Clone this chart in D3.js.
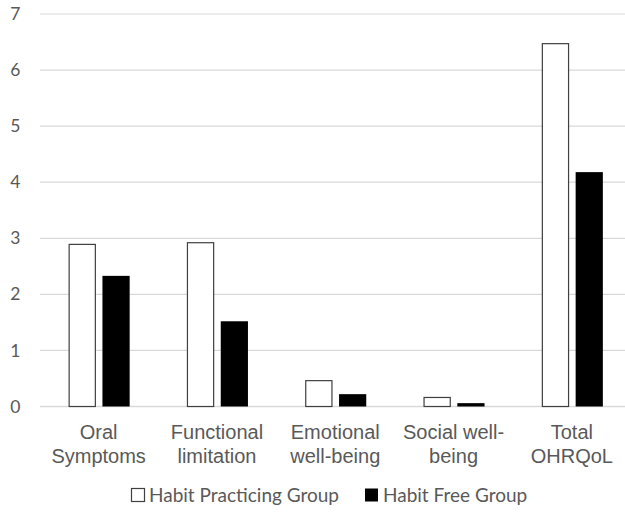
<!DOCTYPE html>
<html>
<head>
<meta charset="utf-8">
<script src="https://cdn.jsdelivr.net/npm/d3@7"></script>
<style>
  html, body { margin: 0; padding: 0; background: #fff; }
  svg { display: block; }
</style>
</head>
<body>
<svg id="chart" width="625" height="517"></svg>
<script>
const categories = [["Oral", "Symptoms"], ["Functional", "limitation"], ["Emotional", "well-being"], ["Social well-", "being"], ["Total", "OHRQoL"]];
const seriesNames = ["Habit Practicing Group", "Habit Free Group"];
const habitPracticing = [2.90, 2.93, 0.47, 0.17, 6.48];
const habitFree = [2.33, 1.52, 0.22, 0.06, 4.18];
const yTicks = [0, 1, 2, 3, 4, 5, 6, 7];

const svg = d3.select("#chart");
const catKeys = categories.map(c => c.join(" "));
const x0 = d3.scaleBand().domain(catKeys).range([40, 631.5]).paddingInner(0).paddingOuter(0);
const x1 = d3.scaleBand().domain(seriesNames).range([0, x0.bandwidth()]).paddingInner(0.195).paddingOuter(0.8475);
const y = d3.scaleLinear().domain([0, 7]).range([406.5, 14]);

// gridlines
svg.append("g").selectAll("line").data(yTicks).join("line")
  .attr("x1", 40).attr("x2", 625)
  .attr("y1", d => y(d)).attr("y2", d => y(d))
  .attr("stroke", "#d9d9d9").attr("stroke-width", d => d === 0 ? 1.5 : 1.2);

// y tick labels
const yAxis = d3.axisLeft(y).tickValues(yTicks).tickFormat(d3.format("d")).tickSize(0).tickPadding(0);
const gy = svg.append("g").attr("transform", "translate(20.5,0)").call(yAxis);
gy.select(".domain").remove();
gy.selectAll("text").attr("fill", "#595959").style("font-family", "Lato, 'Open Sans', sans-serif").style("font-size", "17.5px");

const data = catKeys.map((k, i) => ({ key: k, vals: [habitPracticing[i], habitFree[i]] }));
const fills = ["#ffffff", "#000000"];

const groups = svg.append("g").selectAll("g").data(data).join("g")
  .attr("transform", d => `translate(${x0(d.key)},0)`);

groups.selectAll("rect").data(d => d.vals.map((v, j) => ({ s: seriesNames[j], v, j }))).join("rect")
  .attr("x", d => x1(d.s) + (d.j === 0 ? 0.5 : 0))
  .attr("width", d => x1.bandwidth() - (d.j === 0 ? 1 : 0))
  .attr("y", d => y(d.v) + (d.j === 0 ? 0.5 : 0))
  .attr("height", d => y(0) - y(d.v) - (d.j === 0 ? 0.5 : 0))
  .attr("fill", d => fills[d.j])
  .attr("stroke", d => d.j === 0 ? "#404040" : "none")
  .attr("stroke-width", 1.2);

// x labels
const xl = svg.append("g").selectAll("text").data(categories).join("text")
  .attr("x", (d, i) => x0(catKeys[i]) + x0.bandwidth() / 2 - 0.5)
  .attr("y", 439)
  .attr("text-anchor", "middle")
  .attr("fill", "#595959")
  .style("font-family", "'Liberation Sans', Arial, sans-serif")
  .style("font-size", "20px");
xl.selectAll("tspan").data(d => d).join("tspan")
  .attr("x", function () { return d3.select(this.parentNode).attr("x"); })
  .attr("dy", (d, i) => i === 0 ? 0 : 24)
  .text(d => d);

// legend
const legend = svg.append("g");
const legendItems = [
  { name: seriesNames[0], fill: "#ffffff", stroke: "#404040", bx: 131.5, tx: 149 },
  { name: seriesNames[1], fill: "#000000", stroke: "none", bx: 365, tx: 383 }
];
legendItems.forEach(it => {
  legend.append("rect").attr("x", it.bx).attr("y", 488.5).attr("width", 13).attr("height", 13)
    .attr("fill", it.fill).attr("stroke", it.stroke).attr("stroke-width", 1.2);
  legend.append("text").attr("x", it.tx).attr("y", 502).attr("fill", "#595959")
    .style("font-family", "Lato, 'Open Sans', sans-serif").style("font-size", "19px")
    .text(it.name);
});
</script>
</body>
</html>
